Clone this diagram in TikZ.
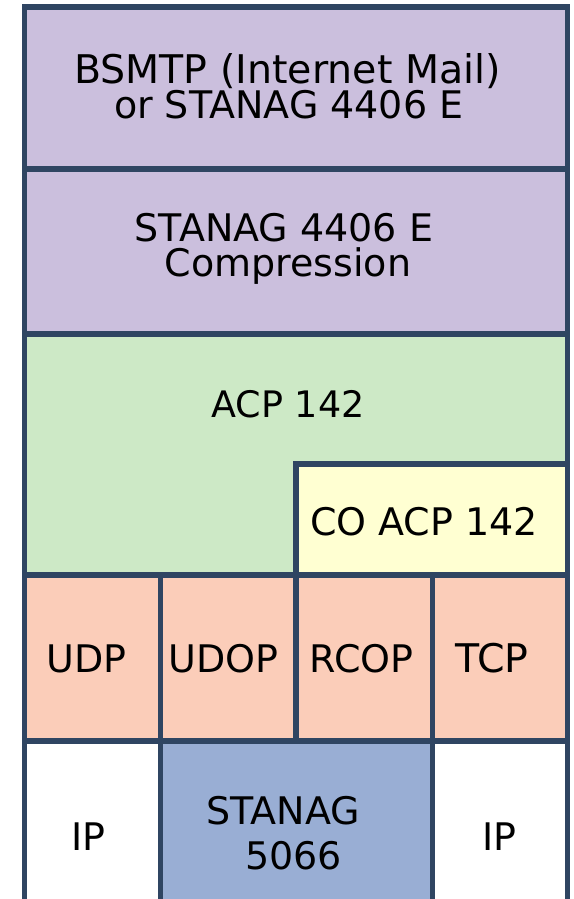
\documentclass[tikz,border=0pt]{standalone}
\usepackage{fontspec}
\setmainfont{DejaVu Sans}
\definecolor{edge}{HTML}{2F4562}
\definecolor{lilac}{HTML}{CBBFDD}
\definecolor{mint}{HTML}{CDE9C6}
\definecolor{cream}{HTML}{FFFFD2}
\definecolor{salmon}{HTML}{FBCDB9}
\definecolor{steel}{HTML}{99AED4}
\begin{document}
\begin{tikzpicture}[x=1pt,y=-1pt,
  cell/.style={draw=edge,line width=5.5pt,rectangle,inner sep=0pt,outer sep=0pt,anchor=north west},
  lbl/.style={anchor=base,inner sep=0pt,font=\fontsize{38}{40}\selectfont}]
\useasboundingbox (0,0) rectangle (573,899);
\clip (0,0) rectangle (573,899);
% protocol stack layers
\node[cell,fill=lilac,minimum width=543pt,minimum height=162pt] (mail) at (24.5,7) {};
\node[cell,fill=lilac,minimum width=543pt,minimum height=165pt] (comp) at (24.5,169) {};
\node[cell,fill=mint,minimum width=543pt,minimum height=241pt] (acp) at (24.5,334) {};
\node[cell,fill=cream,minimum width=271.5pt,minimum height=111pt] (coacp) at (296,464) {};
\node[cell,fill=salmon,minimum width=136pt,minimum height=166pt] (udp) at (24.5,575) {};
\node[cell,fill=salmon,minimum width=135.5pt,minimum height=166pt] (udop) at (160.5,575) {};
\node[cell,fill=salmon,minimum width=136.5pt,minimum height=166pt] (rcop) at (296,575) {};
\node[cell,fill=salmon,minimum width=135pt,minimum height=166pt] (tcp) at (432.5,575) {};
\node[cell,fill=white,minimum width=136pt,minimum height=170pt] (ipl) at (24.5,741) {};
\node[cell,fill=steel,minimum width=272pt,minimum height=170pt] (stanag) at (160.5,741) {};
\node[cell,fill=white,minimum width=135pt,minimum height=170pt] (ipr) at (432.5,741) {};
% labels
\node[lbl,font=\fontsize{39.5}{42}\selectfont] (t1a) at (287.5,83.5) {BSMTP (Internet Mail)};
\node[lbl] (t1b) at (288.7,118.5) {or STANAG 4406 E};
\node[lbl] (t2a) at (284,241) {STANAG 4406 E};
\node[lbl] (t2b) at (288,276) {Compression};
\node[lbl,font=\fontsize{36.5}{40}\selectfont] (t3) at (288,417) {ACP 142};
\node[lbl] (t4) at (424,535) {CO ACP 142};
\node[lbl] (t5) at (86.7,672.5) {UDP};
\node[lbl] (t6) at (223.5,672.5) {UDOP};
\node[lbl] (t7) at (361.4,672.5) {RCOP};
\node[lbl,font=\fontsize{39.5}{40}\selectfont] (t8) at (491.8,672.5) {TCP};
\node[lbl] (t9) at (88.5,850.3) {IP};
\node[lbl] (t10a) at (283,824.6) {STANAG};
\node[lbl] (t10b) at (293.6,869.4) {5066};
\node[lbl] (t11) at (499.5,850.3) {IP};
\end{tikzpicture}
\end{document}
